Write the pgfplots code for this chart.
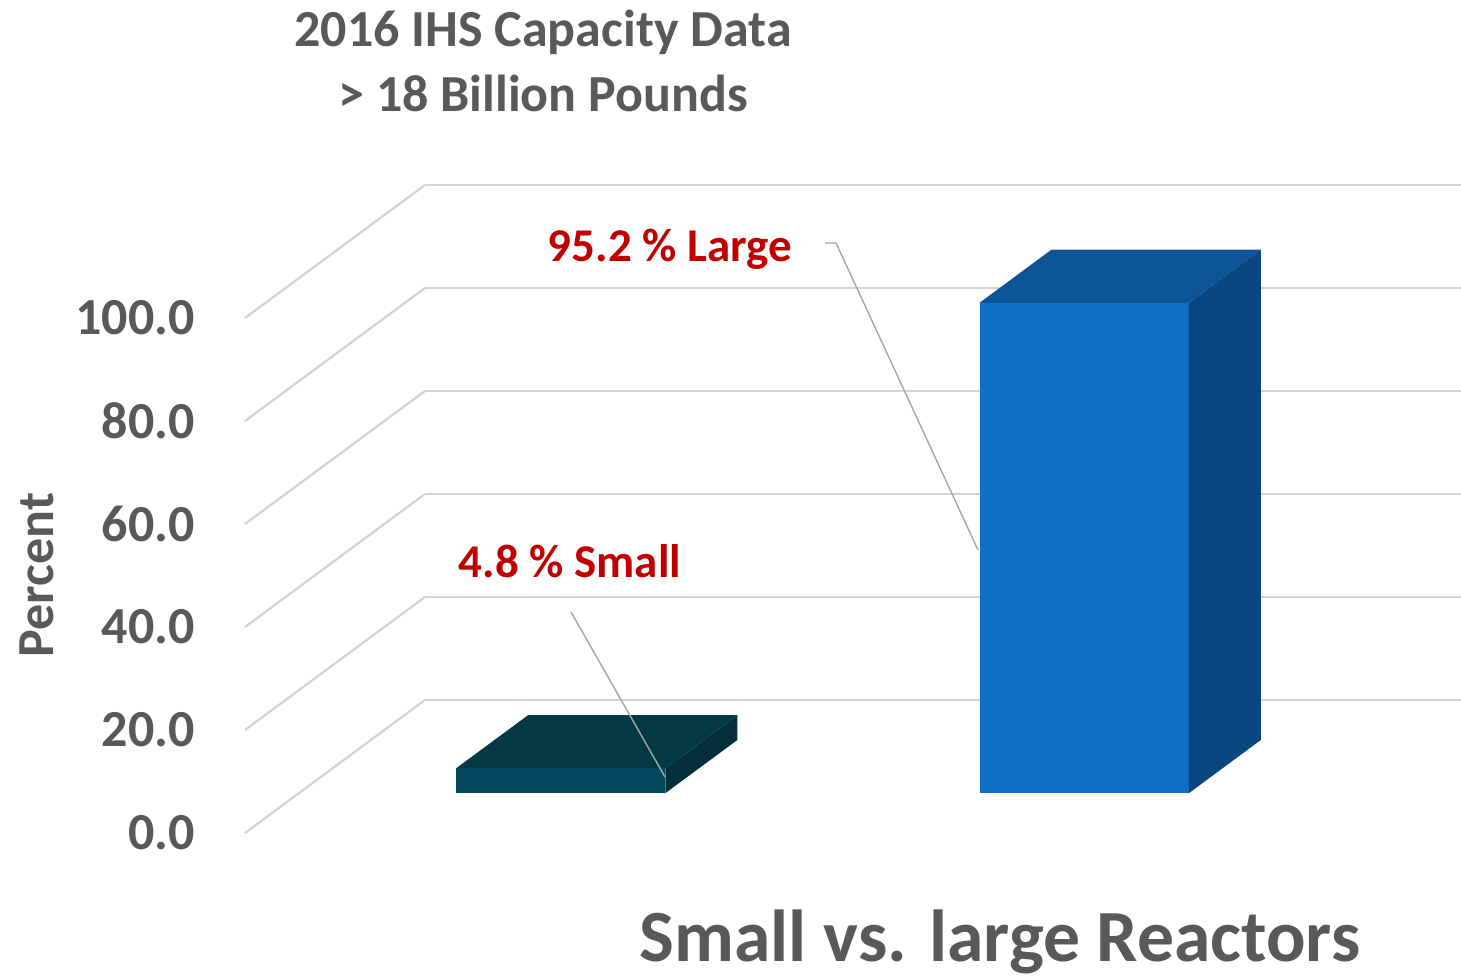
\documentclass[border=0pt]{standalone}
\usepackage{pgfplots}
\pgfplotsset{compat=1.18}
\usepackage{fontspec}
\setmainfont{Carlito}
\definecolor{txtgray}{HTML}{595959}
\definecolor{gridgray}{HTML}{D4D4D4}
\definecolor{redlab}{HTML}{C00000}
\definecolor{sfront}{HTML}{05475C}
\definecolor{stop}{HTML}{033845}
\definecolor{sside}{HTML}{022F3B}
\definecolor{lfront}{HTML}{0F6FC6}
\definecolor{ltop}{HTML}{0B5496}
\definecolor{lside}{HTML}{0A4680}
\begin{document}
\begin{tikzpicture}
\useasboundingbox (0,0) rectangle (730.5pt,489pt);
\begin{axis}[
  at={(122.5pt,72.5pt)}, anchor=origin,
  x={(261.75pt,0pt)}, y={(90pt,66.5pt)}, z={(0pt,2.575pt)},
  xmin=0, xmax=2, ymin=0, ymax=1, zmin=0, zmax=100,
  xtick=\empty, ytick=\empty,
  ztick={0,20,40,60,80,100},
  zmajorgrids=true,
  major grid style={draw=gridgray, line width=1.1pt},
  axis line style={draw=none},
  major tick length=0pt,
  clip=false,
  /pgf/number format/.cd, fixed, fixed zerofill, precision=1, assume math mode=true,
  /pgfplots/.cd,
  z tick label style={font=\fontsize{26}{26}\selectfont\bfseries, text=txtgray, anchor=east, inner sep=0pt, xshift=-25pt},
]
% Small (4.8)
\addplot3[fill=sfront, draw=none] coordinates {(0.3,0.3,0) (0.7,0.3,0) (0.7,0.3,4.8) (0.3,0.3,4.8)} -- cycle;
\addplot3[fill=stop, draw=none] coordinates {(0.3,0.3,4.8) (0.7,0.3,4.8) (0.7,0.7,4.8) (0.3,0.7,4.8)} -- cycle;
\addplot3[fill=sside, draw=none] coordinates {(0.7,0.3,0) (0.7,0.7,0) (0.7,0.7,4.8) (0.7,0.3,4.8)} -- cycle;
% Large (95.2)
\addplot3[fill=lfront, draw=none] coordinates {(1.3,0.3,0) (1.7,0.3,0) (1.7,0.3,95.2) (1.3,0.3,95.2)} -- cycle;
\addplot3[fill=ltop, draw=none] coordinates {(1.3,0.3,95.2) (1.7,0.3,95.2) (1.7,0.7,95.2) (1.3,0.7,95.2)} -- cycle;
\addplot3[fill=lside, draw=none] coordinates {(1.7,0.3,0) (1.7,0.7,0) (1.7,0.7,95.2) (1.7,0.3,95.2)} -- cycle;
\end{axis}
% leader lines
\draw[gray!70, line width=0.7pt] (412.5pt,367.5pt) -- (418pt,367.5pt) -- (489pt,214pt);
\draw[gray!70, line width=0.7pt] (285.5pt,183pt) -- (332.5pt,100.5pt);
% texts
\node[anchor=base, text=redlab, font=\fontsize{23.5}{23.5}\selectfont\bfseries, inner sep=0pt] at (335pt,358pt) {95.2 \% Large};
\node[anchor=base, text=redlab, font=\fontsize{23.5}{23.5}\selectfont\bfseries, inner sep=0pt] at (285pt,200pt) {4.8 \% Small};
\node[anchor=base, text=txtgray, font=\fontsize{26}{26}\selectfont\bfseries, inner sep=0pt] at (271.5pt,465.5pt) {2016 IHS Capacity Data};
\node[anchor=base, text=txtgray, font=\fontsize{26}{26}\selectfont\bfseries, inner sep=0pt] at (271.5pt,433pt) {> 18 Billion Pounds};
\node[anchor=base, text=txtgray, font=\fontsize{36.8}{36.8}\selectfont\bfseries, inner sep=0pt] at (500pt,8pt) {Small vs. large Reactors};
\node[rotate=90, text=txtgray, font=\fontsize{26}{26}\selectfont\bfseries, inner sep=0pt] at (18.5pt,201.5pt) {Percent};
\end{tikzpicture}
\end{document}
